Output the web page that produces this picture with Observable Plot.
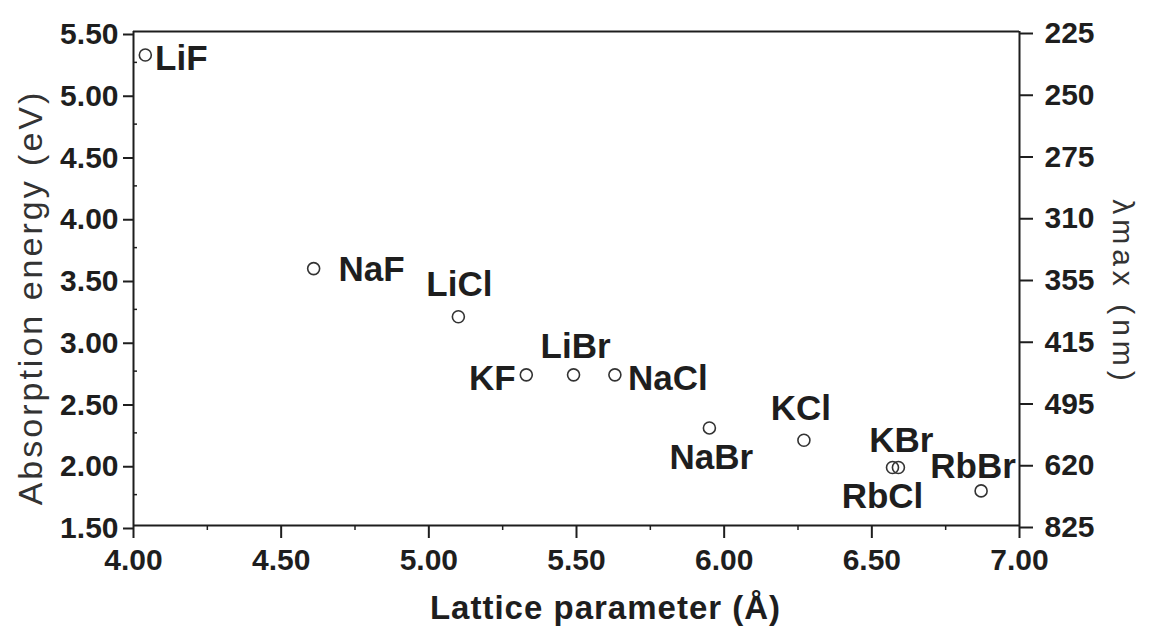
<!DOCTYPE html>
<html>
<head>
<meta charset="utf-8">
<script src="https://cdn.jsdelivr.net/npm/d3@7"></script>
<script src="https://cdn.jsdelivr.net/npm/@observablehq/plot@0.6"></script>
<style>
  html, body { margin: 0; padding: 0; background: #fff; }
  #chart { width: 1149px; height: 626px; }
</style>
</head>
<body>
<div id="chart"></div>
<script>
// ---- data ----
const salts    = ["LiF", "NaF", "LiCl", "KF", "LiBr", "NaCl", "NaBr", "KCl", "RbCl", "KBr", "RbBr"];
const lattice  = [4.04, 4.61, 5.10, 5.33, 5.49, 5.63, 5.95, 6.27, 6.57, 6.59, 6.87];   // Å
const energy   = [5.31, 3.58, 3.19, 2.72, 2.72, 2.72, 2.29, 2.19, 1.97, 1.97, 1.78];   // eV

const xTicks = [4.0, 4.5, 5.0, 5.5, 6.0, 6.5, 7.0];
const yTicks = [1.5, 2.0, 2.5, 3.0, 3.5, 4.0, 4.5, 5.0, 5.5];
const lambdaLabels = ["825", "620", "495", "415", "355", "310", "275", "250", "225"]; // nm, for yTicks

const xMinor = [4.25, 4.75, 5.25, 5.75, 6.25, 6.75];
const yMinor = [1.75, 2.25, 2.75, 3.25, 3.75, 4.25, 4.75, 5.25];

// ---- table built from the arrays ----
const points = salts.map((s, i) => ({salt: s, a: lattice[i], e: energy[i]}));

// label placement relative to each point (screen offsets)
const labelOffset = {
  LiF: [36, 4], NaF: [58, 1], LiCl: [1, -32], KF: [-34, 4], LiBr: [2, -28],
  NaCl: [53, 4], NaBr: [2, 30], KCl: [-3, -31], KBr: [3, -27], RbCl: [-10, 29], RbBr: [-8, -24]
};

const ink = "#1e1e1e";
const fontFamily = "'Liberation Sans', Arial, sans-serif";
const lambdaMap = new Map(yTicks.map((v, i) => [v, lambdaLabels[i]]));

const labelMarks = points.map(p => Plot.text([p], {
  x: "a", y: "e", text: "salt",
  dx: labelOffset[p.salt][0], dy: labelOffset[p.salt][1],
  textAnchor: "middle", lineAnchor: "middle",
  fontSize: 35, fontWeight: "bold", fill: ink
}));

const chart = Plot.plot({
  width: 1149,
  height: 626,
  marginLeft: 133,
  marginRight: 130,
  marginTop: 31,
  marginBottom: 101,
  style: {fontFamily, background: "#fff", color: ink},
  x: {domain: [4, 7]},
  y: {domain: [1.5, 5.5]},
  marks: [
    // frame lines
    Plot.ruleY([1.5, 5.5], {stroke: ink, strokeWidth: 2}),
    Plot.ruleX([4, 7], {stroke: ink, strokeWidth: 2}),
    // bottom axis
    Plot.axisX({ticks: xTicks, tickSize: 13, tickPadding: 10, tickFormat: d3.format(".2f"),
      fontSize: 30, fontWeight: "bold", stroke: ink, strokeWidth: 2, fill: ink, label: null}),
    Plot.axisX({ticks: xMinor, tickSize: 5, tickFormat: () => "", stroke: ink, strokeWidth: 1.5, label: null}),
    // left axis
    Plot.axisY({anchor: "left", ticks: yTicks, tickSize: 10, tickPadding: 5, tickFormat: d3.format(".2f"),
      fontSize: 30, fontWeight: "bold", stroke: ink, strokeWidth: 2, fill: ink, dy: 3, label: null}),
    Plot.axisY({anchor: "left", ticks: yMinor, tickSize: -4, tickFormat: () => "", stroke: ink, strokeWidth: 1.5, label: null}),
    // right axis (λmax)
    Plot.axisY({anchor: "right", ticks: yTicks, tickSize: 13, tickPadding: 12, tickFormat: d => lambdaMap.get(d),
      fontSize: 30, fontWeight: "bold", stroke: ink, strokeWidth: 2, fill: ink, dy: 2, label: null}),
    // points
    Plot.dot(points, {x: "a", y: "e", r: 6, stroke: "#333", strokeWidth: 1.6, fill: "none"}),
    ...labelMarks,
    // axis titles
    Plot.text(["Lattice parameter (Å)"], {frameAnchor: "bottom", dx: 29, dy: 83,
      textAnchor: "middle", lineAnchor: "middle", fontSize: 33, fontWeight: "bold", fill: ink}),
    Plot.text(["Absorption energy (eV)"], {frameAnchor: "left", dx: -102, dy: 19, rotate: -90,
      textAnchor: "middle", lineAnchor: "middle", fontSize: 34, fill: "#333"}),
    Plot.text(["λmax (nm)"], {frameAnchor: "right", dx: 103, dy: 14, rotate: 90,
      textAnchor: "middle", lineAnchor: "middle", fontSize: 30, fill: "#333"})
  ]
});

// letter spacing tweaks for titles
d3.select(chart).selectAll("text").each(function() {
  const t = this.textContent;
  if (t === "Lattice parameter (Å)") this.setAttribute("letter-spacing", "1");
  if (t === "Absorption energy (eV)") this.setAttribute("letter-spacing", "3");
  if (t === "λmax (nm)") this.setAttribute("letter-spacing", "5");
});

document.getElementById("chart").appendChild(chart);
</script>
</body>
</html>
